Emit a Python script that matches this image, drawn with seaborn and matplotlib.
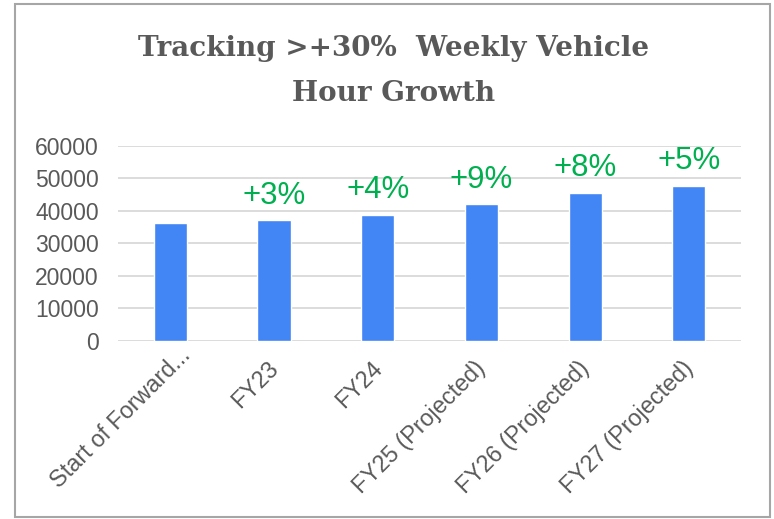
import pandas as pd
import matplotlib.pyplot as plt
import matplotlib.transforms as mtransforms
import seaborn as sns
from matplotlib.patches import Rectangle

# 데이터
categories = ["Start of Forward...", "FY23", "FY24",
              "FY25 (Projected)", "FY26 (Projected)", "FY27 (Projected)"]
hours = [36200, 37100, 38700, 42000, 45500, 47800]
growth = ["", "+3%", "+4%", "+9%", "+8%", "+5%"]

df = pd.DataFrame({"category": categories, "hours": hours})

sns.set_style("white")
plt.rcParams['font.family'] = ['Liberation Sans', 'DejaVu Sans']

fig = plt.figure(figsize=(7.74, 5.19), dpi=100)
ax = fig.add_axes([0.153, 0.343, 0.804, 0.376])

sns.barplot(data=df, x="category", y="hours", color="#4285F4",
            saturation=1, width=0.32, ax=ax)

ax.bar_label(ax.containers[0], labels=growth, padding=7,
             fontsize=22.5, color="#00B050")

ax.set_ylim(0, 60000)
ax.set_yticks(range(0, 60001, 10000))
ax.yaxis.grid(True, color="#D9D9D9", linewidth=1.3)
ax.set_axisbelow(True)
ax.set_xlabel("")
ax.set_ylabel("")
sns.despine(ax=ax, left=True, bottom=True)
ax.tick_params(axis="y", length=0, pad=14, labelsize=16.5, labelcolor="#595959")
ax.tick_params(axis="x", length=0, pad=0, labelsize=16.8, labelcolor="#595959")

# 라벨 회전 및 위치 보정 (첫 라벨은 잘린 텍스트라 위치가 다름)
for i, lbl in enumerate(ax.get_xticklabels()):
    if i == 0:
        shift = mtransforms.ScaledTranslation(0.17, -0.11, fig.dpi_scale_trans)
    else:
        shift = mtransforms.ScaledTranslation(0.01, -0.24, fig.dpi_scale_trans)
    lbl.set_rotation(45)
    lbl.set_ha("right")
    lbl.set_va("center")
    lbl.set_rotation_mode("anchor")
    lbl.set_transform(lbl.get_transform() + shift)

fig.text(0.508, 0.907, "Tracking >+30%  Weekly Vehicle", ha="center", va="center",
         fontsize=20, fontweight="bold", color="#595959", family="DejaVu Serif")
fig.text(0.508, 0.82, "Hour Growth", ha="center", va="center",
         fontsize=20, fontweight="bold", color="#595959", family="DejaVu Serif")

# 차트 테두리
fig.patches.append(Rectangle((0.019, 0.003), 0.976, 0.99, transform=fig.transFigure,
                             fill=False, edgecolor="#A6A6A6", linewidth=1.5))

fig.savefig("out.png", dpi=100)
